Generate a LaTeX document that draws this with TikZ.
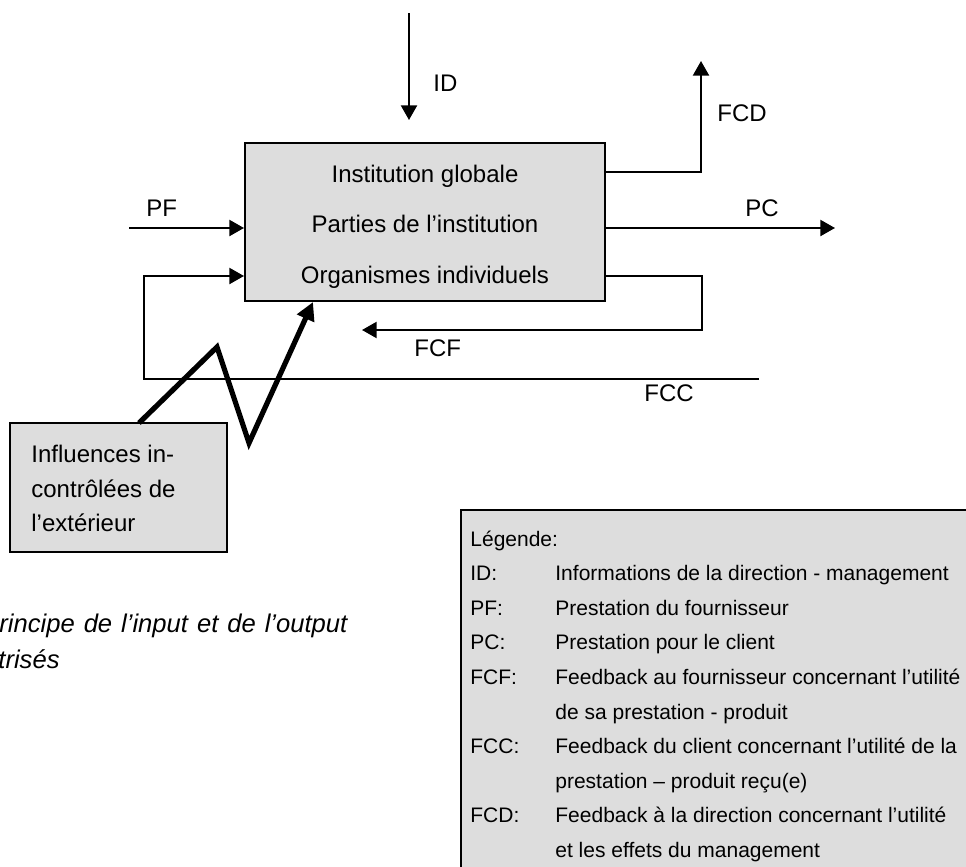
\documentclass[tikz,border=0pt]{standalone}
\usepackage{fontspec}
\setmainfont{Liberation Sans}
\usetikzlibrary{arrows.meta}
\definecolor{boxgray}{HTML}{DDDDDD}
\tikzset{
  flow/.style={line width=1pt, -{Triangle[length=7.3pt,width=8pt]}},
  plainline/.style={line width=0.9pt},
  bigflow/.style={line width=2.6pt, line join=miter, -{Triangle[length=9pt,width=9pt]}},
  lbl/.style={anchor=base west, inner sep=0pt, font=\fontsize{12}{14}\selectfont},
  legtxt/.style={anchor=base west, inner sep=0pt, font=\fontsize{10.5}{12}\selectfont},
  captxt/.style={anchor=base west, inner sep=0pt, font=\fontsize{12.8}{16}\selectfont\itshape},
  graybox/.style={draw, fill=boxgray, line width=1pt, inner sep=0pt}
}
\begin{document}
\begin{tikzpicture}[x=0.5pt,y=-0.5pt]
\useasboundingbox (0,0) rectangle (966,867);
\clip (0,0) rectangle (966,867);
% main box
\node[graybox, minimum width=180pt, minimum height=79pt] (inst) at (425,222) {};
\node[lbl, anchor=base] (t1) at (425,182.5) {Institution globale};
\node[lbl, anchor=base] (t2) at (425,232.5) {Parties de l’institution};
\node[lbl, anchor=base] (t3) at (425,283) {Organismes individuels};
% influence box
\node[graybox, minimum width=108.5pt, minimum height=64.5pt] (infl) at (118.5,487.5) {};
\node[lbl] (i1) at (31,462) {Influences in-};
\node[lbl] (i2) at (31,497) {contrôlées de};
\node[lbl] (i3) at (31,531) {l’extérieur};
% coordinates
\coordinate (idtop) at (409,13);
\coordinate (idtip) at (409,120);
\coordinate (fcdc) at (701,172);
\coordinate (fcdtip) at (701,61);
\coordinate (pctip) at (835,228);
\coordinate (pfstart) at (129,228);
\coordinate (fcfc) at (702,276);
\coordinate (fcfd) at (702,330);
\coordinate (fcftip) at (362,330);
\coordinate (fccend) at (759,379);
\coordinate (fccl) at (144,379);
\coordinate (fccu) at (144,276);
\coordinate (zz0) at (139,423);
\coordinate (zz1) at (217,347);
\coordinate (zz2) at (249,443);
\coordinate (zztip) at (313,302);
% connectors
\draw[flow] (idtop) -- (idtip);
\draw[flow] (inst.east |- fcdc) -- (fcdc) -- (fcdtip);
\draw[flow] (inst.east |- pctip) -- (pctip);
\draw[flow] (pfstart) -- (inst.west |- pfstart);
\draw[flow] (inst.east |- fcfc) -- (fcfc) -- (fcfd) -- (fcftip);
\draw[flow] (fccend) -- (fccl) -- (fccu) -- (inst.west |- fccu);
\draw[bigflow] (zz0) -- (zz1) -- (zz2) -- (zztip);
% labels
\node[lbl] (lid) at (433,91) {ID};
\node[lbl] (lfcd) at (717,121.5) {FCD};
\node[lbl] (lpc) at (745,216.5) {PC};
\node[lbl] (lpf) at (146,216.5) {PF};
\node[lbl] (lfcf) at (414,356) {FCF};
\node[lbl] (lfcc) at (644,401) {FCC};
% caption
\node[captxt] (cap1) at (-1,632) {\makebox[174pt][s]{rincipe de l’input et de l’output}};
\node[captxt] (cap2) at (-2,668) {trisés};
% legend
\draw[fill=boxgray, line width=1.4pt] (461,510) rectangle (1000,900);
\node[legtxt] (lg0) at (470,546) {Légende:};
\node[legtxt] (lg1a) at (470,580.6) {ID:};
\node[legtxt] (lg1b) at (555,580.6) {Informations de la direction - management};
\node[legtxt] (lg2a) at (470,615.2) {PF:};
\node[legtxt] (lg2b) at (555,615.2) {Prestation du fournisseur};
\node[legtxt] (lg3a) at (470,649.8) {PC:};
\node[legtxt] (lg3b) at (555,649.8) {Prestation pour le client};
\node[legtxt] (lg4a) at (470,684.4) {FCF:};
\node[legtxt] (lg4b) at (555,684.4) {Feedback au fournisseur concernant l’utilité};
\node[legtxt] (lg4c) at (555,719) {de sa prestation - produit};
\node[legtxt] (lg5a) at (470,753.6) {FCC:};
\node[legtxt] (lg5b) at (555,753.6) {Feedback du client concernant l’utilité de la};
\node[legtxt] (lg5c) at (555,788.2) {prestation – produit reçu(e)};
\node[legtxt] (lg6a) at (470,822.8) {FCD:};
\node[legtxt] (lg6b) at (555,822.8) {Feedback à la direction concernant l’utilité};
\node[legtxt] (lg6c) at (555,857.4) {et les effets du management};
\end{tikzpicture}
\end{document}
